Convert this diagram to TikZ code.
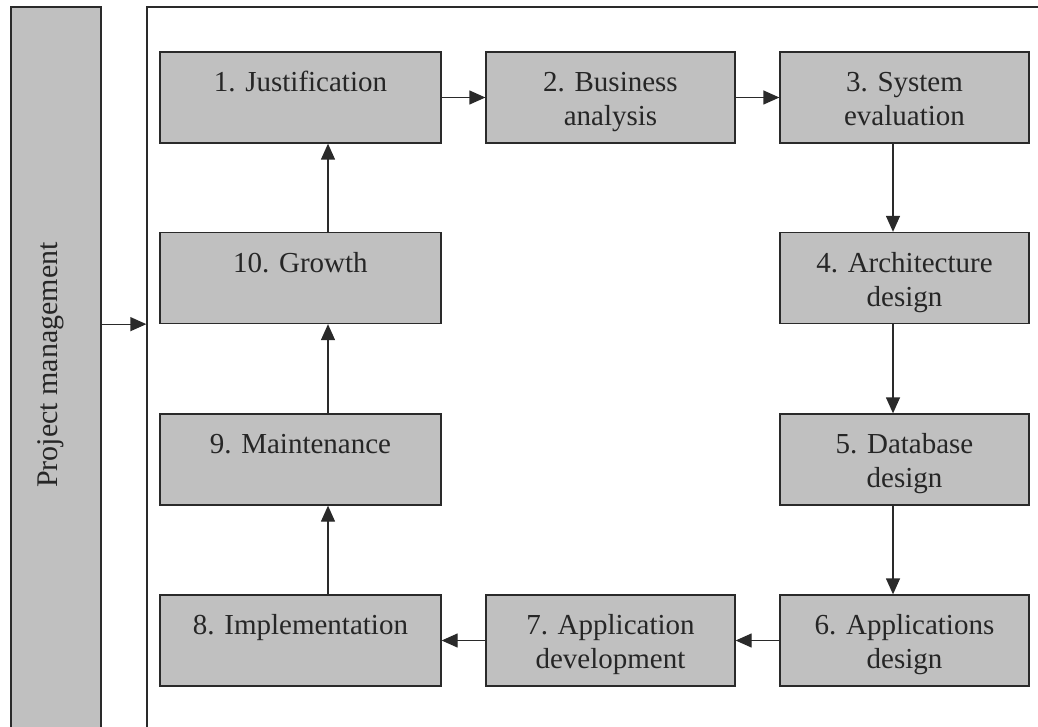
\documentclass[tikz,border=0pt]{standalone}
\usepackage{fontspec}
\setmainfont{Liberation Serif}
\usetikzlibrary{arrows.meta,calc}
\definecolor{boxgray}{HTML}{C0C0C0}
\definecolor{linegray}{HTML}{2A2A2A}
\begin{document}
\begin{tikzpicture}[x=1pt,y=-1pt,
  stepbox/.style={draw=linegray, fill=boxgray, line width=1.3pt, minimum height=91pt, inner sep=0pt},
  widebox/.style={stepbox, minimum width=281pt},
  narrowbox/.style={stepbox, minimum width=249pt},
  steplabel/.style={anchor=north, inner sep=0pt, align=center, font=\fontsize{29}{34}\selectfont, text=black!85},
  flow/.style={draw=linegray, line width=1.3pt, -{Triangle[length=16pt,width=14pt]}},
  framebox/.style={draw=linegray, line width=1.3pt, inner sep=0pt}]
\useasboundingbox (0,0) rectangle (1038,727);
% left project management bar and main frame
\node[framebox, fill=boxgray, minimum width=90pt, minimum height=760pt] (pm) at (56,387) {};
\node[anchor=base, rotate=90, inner sep=0pt, font=\fontsize{30}{34}\selectfont, text=black!85] (pmt) at (57,365) {Project management};
\node[framebox, minimum width=920pt, minimum height=760pt] (frame) at (607,387) {};
% step boxes
\node[widebox]   (b1)  at (300.5,97.5) {};
\node[narrowbox] (b2)  at (610.5,97.5) {};
\node[narrowbox] (b3)  at (904.5,97.5) {};
\node[narrowbox] (b4)  at (904.5,278) {};
\node[narrowbox] (b5)  at (904.5,459.5) {};
\node[narrowbox] (b6)  at (904.5,640.5) {};
\node[narrowbox] (b7)  at (610.5,640.5) {};
\node[widebox]   (b8)  at (300.5,640.5) {};
\node[widebox]   (b9)  at (300.5,459.5) {};
\node[widebox]   (b10) at (300.5,278) {};
% labels
\node[steplabel] (t1)  at ($(b1.north)+(0,14)$)  {\rule{0pt}{26pt}1. Justification};
\node[steplabel] (t2)  at ($(b2.north)+(0,14)$)  {\rule{0pt}{26pt}2. Business\\analysis};
\node[steplabel] (t3)  at ($(b3.north)+(0,14)$)  {\rule{0pt}{26pt}3. System\\evaluation};
\node[steplabel] (t4)  at ($(b4.north)+(0,14)$)  {\rule{0pt}{26pt}4. Architecture\\design};
\node[steplabel] (t5)  at ($(b5.north)+(0,14)$)  {\rule{0pt}{26pt}5. Database\\design};
\node[steplabel] (t6)  at ($(b6.north)+(0,14)$)  {\rule{0pt}{26pt}6. Applications\\design};
\node[steplabel] (t7)  at ($(b7.north)+(0,14)$)  {\rule{0pt}{26pt}7. Application\\development};
\node[steplabel] (t8)  at ($(b8.north)+(0,14)$)  {\rule{0pt}{26pt}8. Implementation};
\node[steplabel] (t9)  at ($(b9.north)+(0,14)$)  {\rule{0pt}{26pt}9. Maintenance};
\node[steplabel] (t10) at ($(b10.north)+(0,14)$) {\rule{0pt}{26pt}10. Growth};
% connector columns
\coordinate (cl) at (328,0);
\coordinate (cr) at (893,0);
% connectors
\draw[flow] (pm.east |- b10.south) -- (frame.west |- b10.south);
\draw[flow] (b1) -- (b2);
\draw[flow] (b2) -- (b3);
\draw[flow] (b3.south -| cr) -- (b4.north -| cr);
\draw[flow] (b4.south -| cr) -- (b5.north -| cr);
\draw[flow] (b5.south -| cr) -- (b6.north -| cr);
\draw[flow] (b6) -- (b7);
\draw[flow] (b7) -- (b8);
\draw[flow] (b8.north -| cl) -- (b9.south -| cl);
\draw[flow] (b9.north -| cl) -- (b10.south -| cl);
\draw[flow] (b10.north -| cl) -- (b1.south -| cl);
\end{tikzpicture}
\end{document}
